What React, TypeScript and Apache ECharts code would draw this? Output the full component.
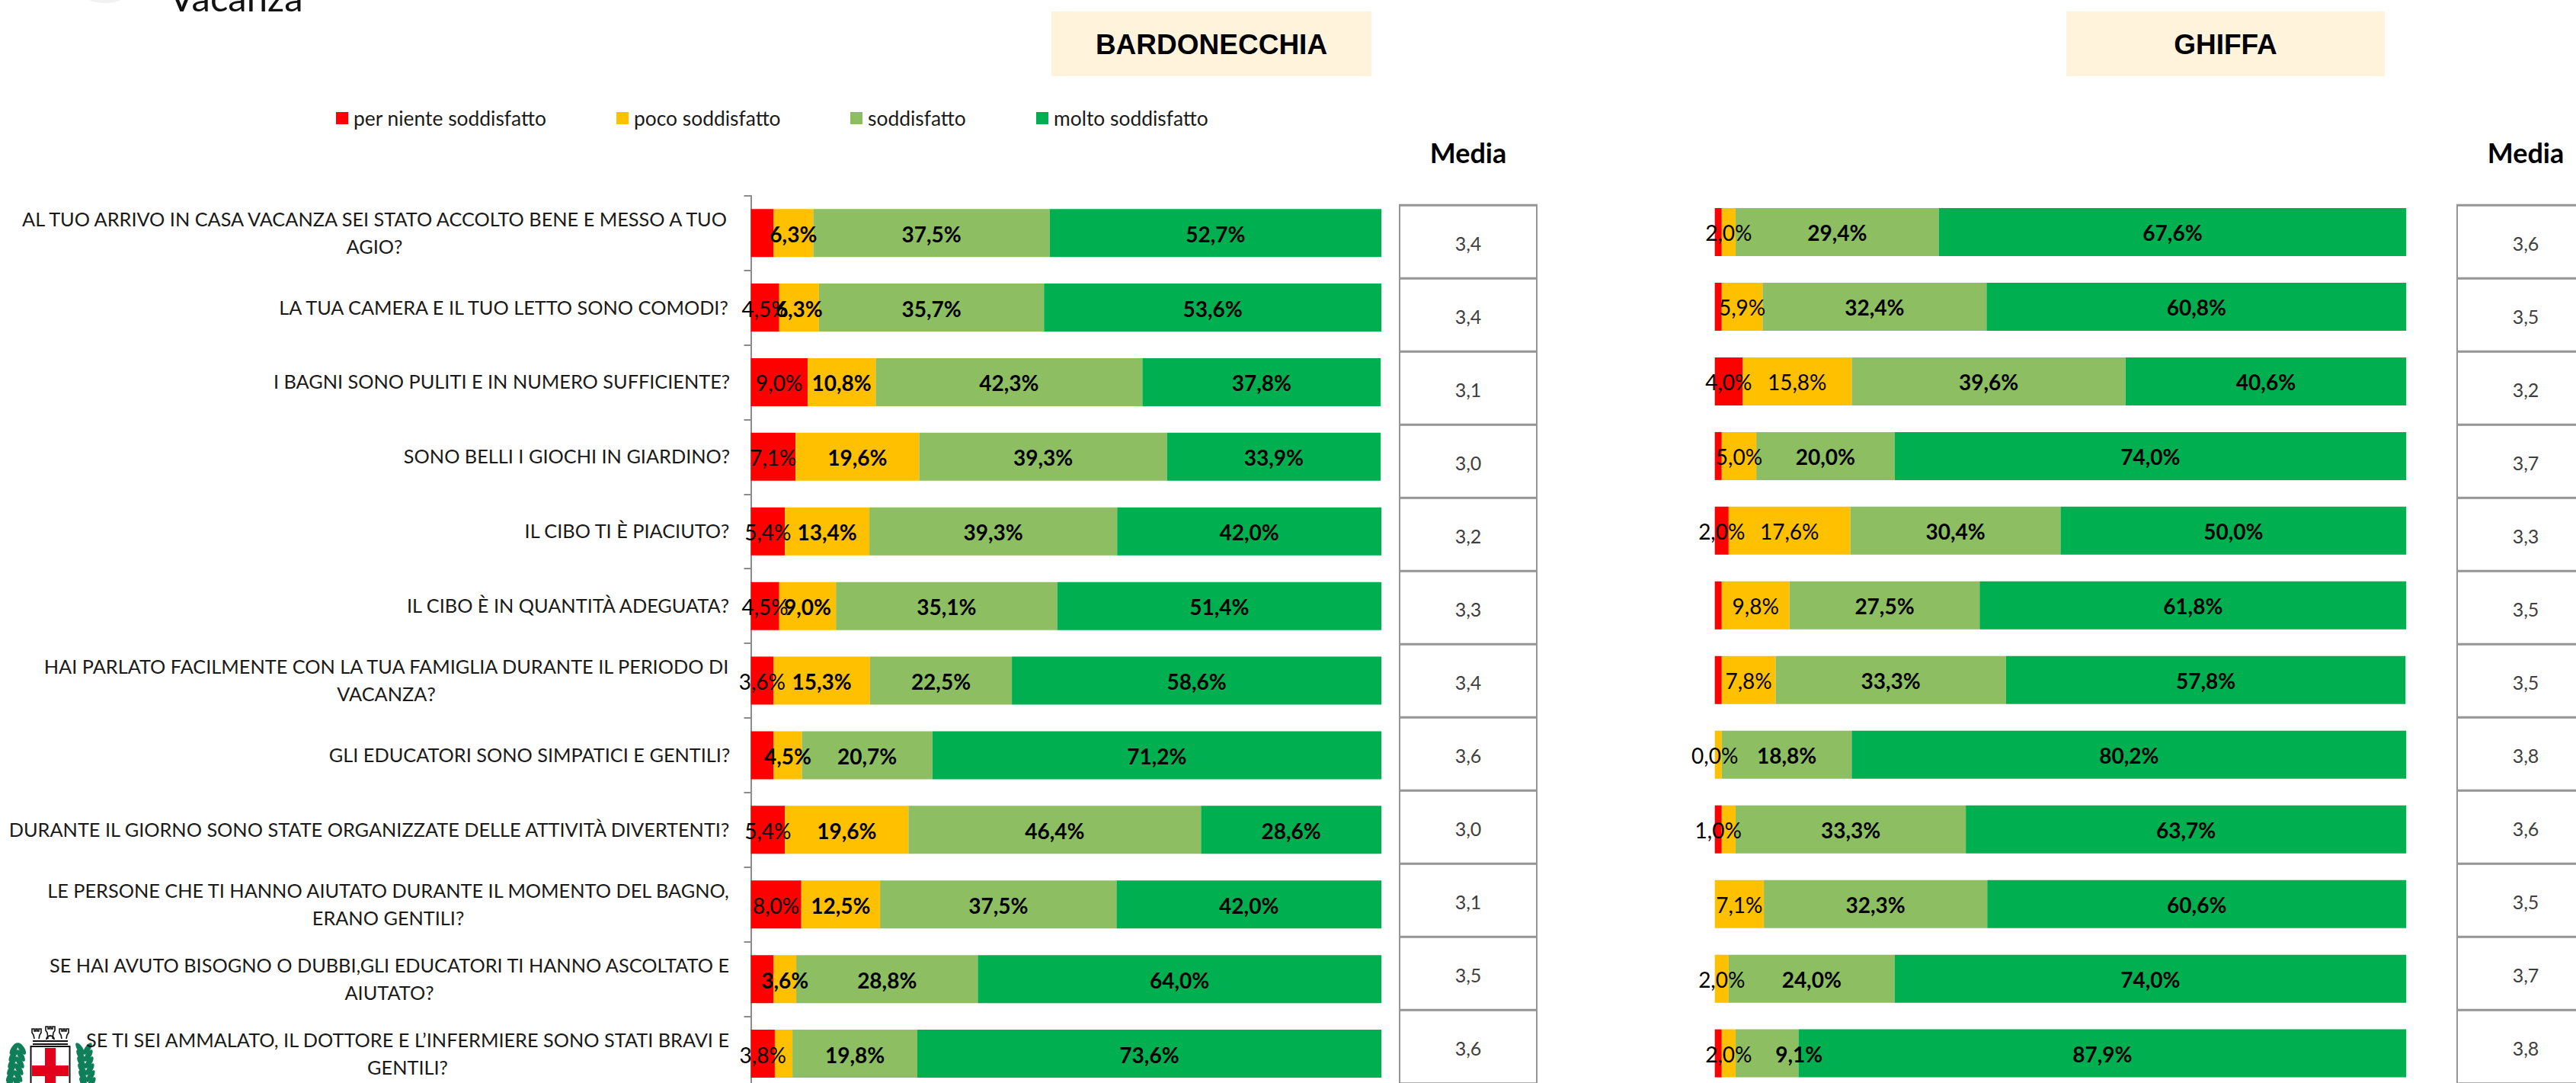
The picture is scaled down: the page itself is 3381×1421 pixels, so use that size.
import React, { useEffect, useRef } from "react";
import * as echarts from "echarts";

const questions = [
  "AL TUO ARRIVO IN CASA VACANZA SEI STATO ACCOLTO BENE E MESSO A TUO\nAGIO?",
  "LA TUA CAMERA E IL TUO LETTO SONO COMODI?",
  "I BAGNI SONO PULITI E IN NUMERO SUFFICIENTE?",
  "SONO BELLI I GIOCHI IN GIARDINO?",
  "IL CIBO TI È PIACIUTO?",
  "IL CIBO È IN QUANTITÀ ADEGUATA?",
  "HAI PARLATO FACILMENTE CON LA TUA FAMIGLIA DURANTE IL PERIODO DI\nVACANZA?",
  "GLI EDUCATORI SONO SIMPATICI E GENTILI?",
  "DURANTE IL GIORNO SONO STATE ORGANIZZATE DELLE ATTIVITÀ DIVERTENTI?",
  "LE PERSONE CHE TI HANNO AIUTATO DURANTE IL MOMENTO DEL BAGNO,\nERANO GENTILI?",
  "SE HAI AVUTO BISOGNO O DUBBI,GLI EDUCATORI TI HANNO ASCOLTATO E\nAIUTATO?",
  "SE TI SEI AMMALATO, IL DOTTORE E L’INFERMIERE SONO STATI BRAVI E\nGENTILI?",
];
const seriesNames = ["per niente soddisfatto", "poco soddisfatto", "soddisfatto", "molto soddisfatto"];
const seriesColors = ["#FF0000", "#FFC000", "#8DBE62", "#00B050"];

const bardNiente = [3.6, 4.5, 9.0, 7.1, 5.4, 4.5, 3.6, 3.6, 5.4, 8.0, 3.6, 3.8];
const bardPoco = [6.3, 6.3, 10.8, 19.6, 13.4, 9.0, 15.3, 4.5, 19.6, 12.5, 3.6, 2.8];
const bardSodd = [37.5, 35.7, 42.3, 39.3, 39.3, 35.1, 22.5, 20.7, 46.4, 37.5, 28.8, 19.8];
const bardMolto = [52.7, 53.6, 37.8, 33.9, 42.0, 51.4, 58.6, 71.2, 28.6, 42.0, 64.0, 73.6];
const bardMedia = ["3,4", "3,4", "3,1", "3,0", "3,2", "3,3", "3,4", "3,6", "3,0", "3,1", "3,5", "3,6"];
const bardNienteUnlabelled = [0, 7, 10];
const bardPocoUnlabelled = [11];

const ghifNiente = [1.0, 1.0, 4.0, 1.0, 2.0, 1.0, 1.0, 0.0, 1.0, 0.0, 0.0, 1.0];
const ghifPoco = [2.0, 5.9, 15.8, 5.0, 17.6, 9.8, 7.8, 1.0, 2.0, 7.1, 2.0, 2.0];
const ghifSodd = [29.4, 32.4, 39.6, 20.0, 30.4, 27.5, 33.3, 18.8, 33.3, 32.3, 24.0, 9.1];
const ghifMolto = [67.6, 60.8, 40.6, 74.0, 50.0, 61.8, 57.8, 80.2, 63.7, 60.6, 74.0, 87.9];
const ghifMedia = ["3,6", "3,5", "3,2", "3,7", "3,3", "3,5", "3,5", "3,8", "3,6", "3,5", "3,7", "3,8"];
const ghifNienteLabelled = [2, 4, 7, 8];
const ghifPocoUnlabelled = [7, 8];

const FONT = "Lato";
const AXIS_SIZE = 25.3;
const LABEL_SIZE = 28;
const TABLE_LINE = "#969696";

const pct = (p: any) => p.value.toFixed(1).replace(".", ",") + "%";

function measure(text: string, size: number) {
  const c = document.createElement("canvas").getContext("2d")!;
  c.font = `${size}px ${FONT}`;
  return c.measureText(text).width;
}

function barSeries(
  name: string, idx: number, stack: string, grid: number, values: number[], bold: boolean,
  hidden: (i: number) => boolean, shift: (i: number) => number = () => 0,
) {
  return {
    type: "bar",
    name,
    stack,
    xAxisIndex: grid,
    yAxisIndex: grid,
    barWidth: 63,
    itemStyle: { color: seriesColors[idx] },
    data: values.map((v, i) => ({
      value: v,
      label: {
        show: !hidden(i),
        position: "inside",
        offset: [shift(i), 1],
        formatter: pct,
        color: "#000",
        fontFamily: FONT,
        fontSize: LABEL_SIZE,
        fontWeight: bold ? "bold" : "normal",
      },
    })),
  };
}

function tableGraphics(x: number, values: string[]) {
  const top = 269.3;
  const pitch = 96;
  const w = 180;
  const items: any[] = [];
  values.forEach((v, i) => {
    const y = top + i * pitch;
    items.push({ type: "rect", shape: { x, y, width: w, height: pitch }, style: { fill: "#fff", stroke: TABLE_LINE, lineWidth: 2 } });
    items.push({ type: "rect", shape: { x: x - 1, y: y - 1.5, width: w + 2, height: 3 }, style: { fill: TABLE_LINE } });
    items.push({
      type: "text",
      x: x + w / 2,
      y: y + pitch / 2 + 2,
      style: { text: v, fill: "#404040", font: `25px ${FONT}`, textAlign: "center", textVerticalAlign: "middle" },
    });
  });
  return items;
}

function logoGraphics() {
  const green = "#0F7F5A";
  const black = "#111";
  const red = "#E2001A";
  const items: any[] = [
    { type: "rect", z: -1, shape: { x: 40.5, y: 1373, width: 51, height: 70 }, style: { fill: "#fff", stroke: black, lineWidth: 2 } },
    { type: "rect", z: -1, shape: { x: 42, y: 1398, width: 48, height: 14 }, style: { fill: red } },
    { type: "rect", z: -1, shape: { x: 59, y: 1375, width: 14, height: 46 }, style: { fill: red } },
    { type: "rect", z: -1, shape: { x: 43, y: 1369, width: 46, height: 2 }, style: { fill: black } },
    { type: "rect", z: -1, shape: { x: 43, y: 1365, width: 46, height: 2 }, style: { fill: black } },
    { type: "arc", z: -1, shape: { cx: 66, cy: 1364, r: 5, startAngle: Math.PI, endAngle: 0 }, style: { stroke: black, lineWidth: 2, fill: "none" } },
  ];
  [48, 66, 84].forEach((cx, t) => {
    const top = t === 1 ? 1347 : 1350;
    const points = [
      [cx - 3, 1363], [cx - 4, top + 8], [cx - 6, top + 5], [cx - 6, top], [cx - 3, top], [cx - 3, top + 3],
      [cx - 1, top + 3], [cx - 1, top], [cx + 1, top], [cx + 1, top + 3], [cx + 3, top + 3], [cx + 3, top],
      [cx + 6, top], [cx + 6, top + 5], [cx + 4, top + 8], [cx + 3, 1363],
    ];
    items.push({ type: "polyline", z: -1, shape: { points }, style: { stroke: black, fill: "none", lineWidth: 1.6 } });
  });
  [
    { base: 16, lean: 0.22, side: 1 },
    { base: 116, lean: -0.18, side: -1 },
  ].forEach(({ base, lean, side }) => {
    for (let y = 1372; y < 1428; y += 9) {
      const cx = base + (1428 - y) * lean * 0.6;
      items.push({ type: "ellipse", z: -1, x: cx - 5, y: y + 4, rotation: side * 1.0, shape: { cx: 0, cy: 0, rx: 9, ry: 3.6 }, style: { fill: green } });
      items.push({ type: "ellipse", z: -1, x: cx + 5, y: y + 4, rotation: -side * 1.0, shape: { cx: 0, cy: 0, rx: 9, ry: 3.6 }, style: { fill: green } });
    }
  });
  return items;
}

function titleBox(x: number, width: number, text: string) {
  return [
    { type: "rect", shape: { x, y: 15, width, height: 85 }, style: { fill: "#FFF3DC" } },
    { type: "text", x: x + width / 2, y: 58, style: { text, fill: "#000", font: `bold 37px "Liberation Sans"`, textAlign: "center", textVerticalAlign: "middle" } },
  ];
}

export default function App() {
  const ref = useRef<HTMLDivElement>(null);
  useEffect(() => {
    document.body.style.margin = "0";
    const chart = echarts.init(ref.current!, null, { renderer: "svg" });
    const rich: any = {};
    questions.forEach((q, i) => {
      rich[`r${i}`] = { width: Math.ceil(measure(q.split("\n")[0], AXIS_SIZE)), align: "center", lineHeight: 36, fontFamily: FONT, fontSize: AXIS_SIZE, color: "#1a1a1a" };
    });
    const legendPos = [441, 809, 1116, 1360];
    chart.setOption({
      animation: false,
      backgroundColor: "#fff",
      legend: seriesNames.map((n, i) => ({
        data: [n],
        left: legendPos[i],
        top: 142,
        itemWidth: 16,
        itemHeight: 16,
        itemGap: 0,
        padding: 0,
        selectedMode: false,
        icon: "rect",
        textStyle: { fontFamily: FONT, fontSize: 26.4, color: "#1a1a1a", padding: [0, 0, 0, 2] },
      })),
      grid: [
        { left: 985.5, top: 256.7, width: 827.5, height: 1174.8, outerBoundsMode: "none" },
        { left: 2250.7, top: 255.5, width: 907.5, height: 1175.6, outerBoundsMode: "none" },
      ],
      xAxis: [0, 1].map((g) => ({ type: "value", gridIndex: g, min: 0, max: 100, show: false })),
      yAxis: [
        {
          type: "category",
          gridIndex: 0,
          inverse: true,
          data: questions,
          axisLine: { show: true, lineStyle: { color: "#8c8c8c", width: 2 } },
          axisTick: { show: true, length: 9, lineStyle: { color: "#8c8c8c", width: 2 } },
          axisLabel: {
            margin: 27,
            interval: 0,
            align: "right",
            padding: [0, 0, 2, 0],
            rich,
            formatter: (v: string) => {
              const i = questions.indexOf(v);
              return v.split("\n").map((l) => `{r${i}|${l}}`).join("\n");
            },
          },
        },
        { type: "category", gridIndex: 1, inverse: true, data: questions, show: false },
      ],
      series: [
        barSeries(seriesNames[0], 0, "b", 0, bardNiente, false, (i) => bardNienteUnlabelled.includes(i)),
        barSeries(seriesNames[1], 1, "b", 0, bardPoco, true, (i) => bardPocoUnlabelled.includes(i)),
        barSeries(seriesNames[2], 2, "b", 0, bardSodd, true, () => false),
        barSeries(seriesNames[3], 3, "b", 0, bardMolto, true, () => false),
        barSeries(seriesNames[0], 0, "g", 1, ghifNiente, false, (i) => !ghifNienteLabelled.includes(i)),
        barSeries(seriesNames[1], 1, "g", 1, ghifPoco, false, (i) => ghifPocoUnlabelled.includes(i)),
        barSeries(seriesNames[2], 2, "g", 1, ghifSodd, true, () => false, (i) => (i === 11 ? 42 : 0)),
        barSeries(seriesNames[3], 3, "g", 1, ghifMolto, true, () => false),
      ],
      graphic: [
        ...titleBox(1380, 420, "BARDONECCHIA"),
        ...titleBox(2712, 418, "GHIFFA"),
        { type: "text", x: 1927, y: 200, style: { text: "Media", fill: "#000", font: `bold 36px ${FONT}`, textAlign: "center", textVerticalAlign: "middle" } },
        { type: "text", x: 3315, y: 200, style: { text: "Media", fill: "#000", font: `bold 36px ${FONT}`, textAlign: "center", textVerticalAlign: "middle" } },
        { type: "ellipse", shape: { cx: 138, cy: -6, rx: 26, ry: 10 }, style: { fill: "#f1f1f1" } },
        { type: "text", x: 222, y: -4, style: { text: "Vacanza", fill: "#111", font: `49px ${FONT}`, textAlign: "left", textVerticalAlign: "middle" } },
        ...tableGraphics(1837, bardMedia),
        ...tableGraphics(3225, ghifMedia),
        ...logoGraphics(),
      ],
    });
    return () => chart.dispose();
  }, []);
  return <div ref={ref} style={{ position: "absolute", left: 0, top: 0, width: 3381, height: 1421, overflow: "hidden" }} />;
}
